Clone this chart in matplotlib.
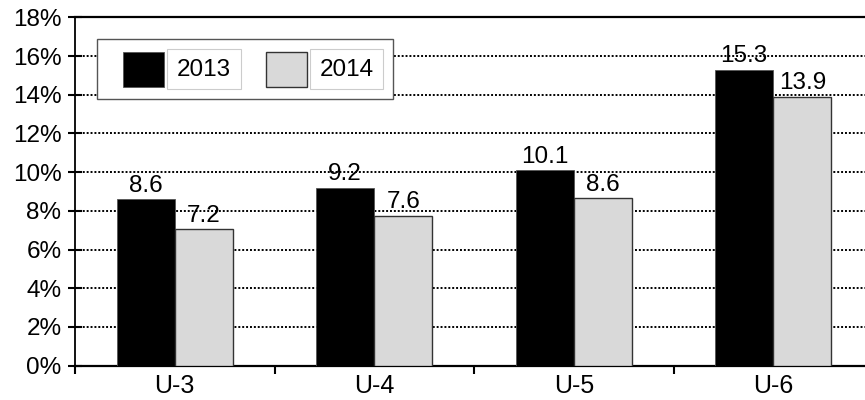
import matplotlib.pyplot as plt
from matplotlib.patches import Rectangle
from matplotlib.ticker import FuncFormatter

plt.rcParams['font.family'] = ['Liberation Sans', 'DejaVu Sans']

# данные
categories = ['U-3', 'U-4', 'U-5', 'U-6']
years = ['2013', '2014']
values_2013 = [8.6, 9.2, 10.1, 15.3]
values_2014 = [7.05, 7.75, 8.65, 13.9]
labels_2013 = ['8.6', '9.2', '10.1', '15.3']
labels_2014 = ['7.2', '7.6', '8.6', '13.9']
y_ticks = [0, 2, 4, 6, 8, 10, 12, 14, 16, 18]

W, H = 865, 400
fig = plt.figure(figsize=(W / 100, H / 100), dpi=100)
ax_l, ax_r, ax_t, ax_b = 75, 865, 17.3, 365.7
ax = fig.add_axes([ax_l / W, (H - ax_b) / H, (ax_r - ax_l) / W, (ax_b - ax_t) / H])

fs = 17.5

x = list(range(len(categories)))
bw = 0.29
off = 0.146
ax.bar([i - off for i in x], values_2013, width=bw, color='black',
       edgecolor='#555555', linewidth=0.6, zorder=3)
ax.bar([i + off for i in x], values_2014, width=bw, color='#d9d9d9',
       edgecolor='#333333', linewidth=1.0, zorder=3)

for i in x:
    ax.text(i - off, values_2013[i] + 0.12, labels_2013[i], ha='center', va='bottom',
            fontsize=fs, zorder=4)
    ax.text(i + off, values_2014[i] + 0.12, labels_2014[i], ha='center', va='bottom',
            fontsize=fs, zorder=4)

cat_w = 199.5
ax.set_xlim(-0.5, -0.5 + (ax_r - ax_l) / cat_w)
ax.set_ylim(0, 18)

# сетка
for t in y_ticks[1:-1]:
    ax.axhline(t, color='black', linewidth=1.4, linestyle=(0, (1, 1)), zorder=1)

ax.set_yticks(y_ticks)
ax.yaxis.set_major_formatter(FuncFormatter(lambda v, p: f'{v:.0f}%'))
ax.tick_params(axis='y', direction='inout', length=9.5, width=1.5, pad=5,
               labelsize=fs)

ax.set_xticks([i - 0.5 for i in x])
ax.set_xticklabels([])
ax.set_xticks(x, minor=True)
ax.set_xticklabels(categories, minor=True)
ax.tick_params(axis='x', which='major', direction='out', length=6, width=1.5)
ax.tick_params(axis='x', which='minor', length=0, pad=6, labelsize=fs + 0.5)

ax.spines['right'].set_visible(False)
ax.spines['top'].set_linewidth(1.6)
ax.spines['bottom'].set_linewidth(1.6)
ax.spines['left'].set_linewidth(1.3)


# легенда (в пикселях рисунка)
def px_rect(x0, y0, x1, y1, **kw):
    r = Rectangle(((x0 - ax_l) / (ax_r - ax_l), (ax_b - y1) / (ax_b - ax_t)),
                  (x1 - x0) / (ax_r - ax_l), (y1 - y0) / (ax_b - ax_t),
                  transform=ax.transAxes, clip_on=False, **kw)
    ax.add_patch(r)


def px_text(px, py, s):
    ax.text((px - ax_l) / (ax_r - ax_l), (ax_b - py) / (ax_b - ax_t), s,
            transform=ax.transAxes, ha='center', va='center', fontsize=fs, zorder=8)


px_rect(96.7, 39.3, 392.7, 99, facecolor='white', edgecolor='#555555', linewidth=1.0, zorder=5)
px_rect(122.7, 51.7, 164, 86.7, facecolor='black', edgecolor='#555555', linewidth=0.6, zorder=6)
px_rect(167.3, 49.3, 240.7, 88.7, facecolor='white', edgecolor='#cccccc', linewidth=0.8, zorder=6)
px_text(204, 69.5, years[0])
px_rect(265.7, 51.7, 306.7, 86.7, facecolor='#d9d9d9', edgecolor='#333333', linewidth=1.0, zorder=6)
px_rect(310, 49.3, 383.3, 88.7, facecolor='white', edgecolor='#cccccc', linewidth=0.8, zorder=6)
px_text(346.7, 69.5, years[1])

fig.savefig('out.png', dpi=100)
